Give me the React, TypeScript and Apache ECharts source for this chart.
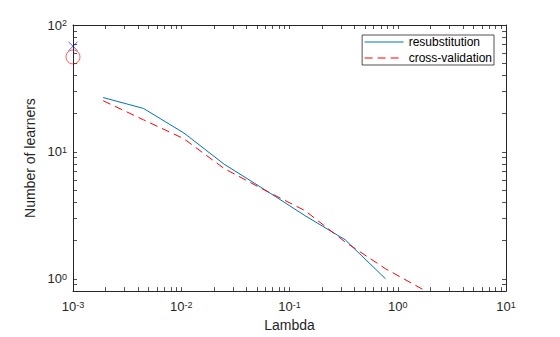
import React, { useEffect, useRef } from "react";
import * as echarts from "echarts";

const lambdas = [0.0019, 0.00448, 0.01057, 0.0249, 0.0588, 0.1387, 0.327, 0.771, 1.82];
const resubstitution = [26.8, 22.0, 14.1, 8.0, 5.05, 3.15, 2.03, 1.0];
const crossValidation = [25.3, 17.9, 12.7, 7.4, 5.0, 3.45, 1.95, 1.2, 0.8];
const minResubPoint = [0.001, 68];
const minCvPoint = [0.001, 56];
const xMajorTicks = [0.001, 0.01, 0.1, 1, 10];
const yMajorTicks = [1, 10, 100];
const seriesNames = ["resubstitution", "cross-validation"];

function minorTicks(majors: number[], lo: number, hi: number): number[] {
  const out: number[] = [];
  const bases = [majors[0] / 10, ...majors];
  for (let i = 0; i < bases.length; i++) {
    for (let k = 1; k < 10; k++) {
      const v = +(bases[i] * k).toPrecision(6);
      if (v >= lo && v <= hi) out.push(v);
    }
  }
  return out.sort((a, b) => a - b);
}

const FONT = "Liberation Sans, Arial, Helvetica, sans-serif";
const AX = "#262626";

export default function App() {
  const ref = useRef<HTMLDivElement>(null);
  useEffect(() => {
    document.body.style.margin = "0";
    if (!ref.current) return;
    const chart = echarts.init(ref.current, null, { renderer: "svg" });
    const xMin = 0.001, xMax = 10, yMin = 0.8, yMax = 100;
    const xTicks = minorTicks(xMajorTicks, xMin, xMax);
    const yTicks = minorTicks(yMajorTicks, yMin, yMax);
    const expFmt = (v: number) => {
      const e = Math.round(Math.log10(v));
      return "{b|10}{s|" + e + "}";
    };
    const rich = {
      b: { fontSize: 13, fontFamily: FONT, color: AX, verticalAlign: "bottom" },
      s: { fontSize: 9, fontFamily: FONT, color: AX, verticalAlign: "top" },
    };
    const baseAxis = {
      type: "log",
      logBase: 10,
      splitLine: { show: false },
      axisLine: { show: true, onZero: false, lineStyle: { color: AX, width: 1 } },
      axisTick: { show: true, inside: true, length: 4, lineStyle: { color: AX, width: 0.8 } },
      minorTick: { show: false },
    };
    chart.setOption({
      animation: false,
      backgroundColor: "#ffffff",
      grid: { left: 73, right: 54, top: 25, bottom: 41, containLabel: false },
      legend: {
        data: seriesNames,
        orient: "vertical",
        right: 66,
        top: 35,
        itemWidth: 39,
        itemHeight: 10,
        itemGap: 4,
        padding: [1, 2, 1, 2],
        borderColor: AX,
        borderWidth: 0.8,
        backgroundColor: "#fff",
        itemStyle: { opacity: 0 },
        lineStyle: { width: 1 },
        textStyle: { fontFamily: FONT, fontSize: 12, color: "#000" },
      },
      xAxis: [
        {
          ...baseAxis,
          min: xMin,
          max: xMax,
          position: "bottom",
          name: "Lambda",
          nameLocation: "middle",
          nameGap: 26,
          nameTextStyle: { fontFamily: FONT, fontSize: 14, color: AX },
          axisTick: { ...baseAxis.axisTick, customValues: xTicks },
          axisLabel: { show: true, customValues: xMajorTicks, formatter: expFmt, rich, margin: 9 },
        },
        {
          ...baseAxis,
          min: xMin,
          max: xMax,
          position: "top",
          axisTick: { ...baseAxis.axisTick, customValues: xTicks },
          axisLabel: { show: false },
        },
      ],
      yAxis: [
        {
          ...baseAxis,
          min: yMin,
          max: yMax,
          position: "left",
          name: "Number of learners",
          nameLocation: "middle",
          nameGap: 31,
          nameTextStyle: { fontFamily: FONT, fontSize: 14, color: AX },
          axisTick: { ...baseAxis.axisTick, customValues: yTicks },
          axisLabel: { show: true, customValues: yMajorTicks, formatter: expFmt, rich, margin: 6 },
        },
        {
          ...baseAxis,
          min: yMin,
          max: yMax,
          position: "right",
          axisTick: { ...baseAxis.axisTick, customValues: yTicks },
          axisLabel: { show: false },
        },
      ],
      series: [
        {
          name: seriesNames[0],
          type: "line",
          data: resubstitution.map((v, i) => [lambdas[i], v]),
          symbol: "none",
          lineStyle: { color: "#0072BD", width: 1 },
          itemStyle: { color: "#0072BD" },
          clip: true,
        },
        {
          name: seriesNames[1],
          type: "line",
          data: crossValidation.map((v, i) => [lambdas[i], v]),
          symbol: "none",
          lineStyle: { color: "#FF0000", width: 1, type: [8, 5] },
          itemStyle: { color: "#FF0000" },
          clip: true,
        },
        {
          name: "minResub",
          type: "scatter",
          data: [minResubPoint],
          symbol: "path://M0,0L10,10M10,0L0,10",
          symbolSize: 9,
          itemStyle: { color: "none", borderColor: "#0000FF", borderWidth: 0.8 },
          clip: false,
          z: 5,
        },
        {
          name: "minCv",
          type: "scatter",
          data: [minCvPoint],
          symbol: "circle",
          symbolSize: 14,
          itemStyle: { color: "none", borderColor: "#FF0000", borderWidth: 0.8 },
          clip: false,
          z: 5,
        },
      ],
    });
    return () => chart.dispose();
  }, []);
  return (
    <div
      ref={ref}
      style={{ width: 560, height: 337, position: "absolute", left: 0, top: 0 }}
    />
  );
}
